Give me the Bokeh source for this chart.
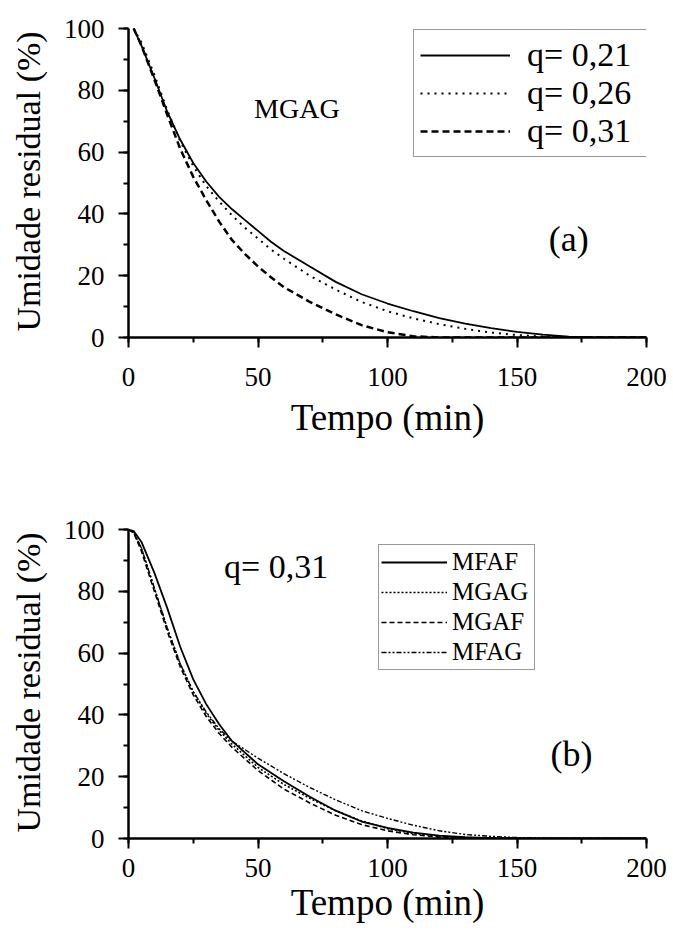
from bokeh.plotting import figure
from bokeh.layouts import column
from bokeh.models import Range1d, SingleIntervalTicker, Legend, LegendItem, Label
from bokeh.embed import file_html
from bokeh.resources import INLINE

FONT = "'Liberation Serif', 'DejaVu Serif', serif"

# ---------------- Panel (a): MGAG, different q ----------------
t_a = [2, 5, 10, 15, 20, 25, 30, 35, 40, 45, 50, 55, 60, 70, 80, 90, 100, 110, 120, 130, 140, 150, 160, 170, 180, 190, 200]
q021 = [100, 94.5, 84, 73, 64, 56.5, 50.5, 45.5, 41.5, 38, 34.5, 31, 28, 23, 18, 14, 11, 8.5, 6.3, 4.5, 3, 1.8, 0.9, 0.3, 0, 0, 0]
q026 = [100, 95.5, 85, 73.5, 63.5, 55.5, 49, 44, 39.5, 35.5, 32, 28.5, 25.5, 20, 15.5, 11.5, 8.5, 6.2, 4.3, 2.8, 1.6, 0.8, 0.3, 0, 0, 0, 0]
q031 = [100, 94.5, 83.5, 72, 61, 52, 44.5, 37.5, 31.5, 27, 23, 19.5, 16.3, 11.5, 7.5, 4, 1.7, 0.4, 0, 0, 0, 0, 0, 0, 0, 0, 0]
labels_a = ["q= 0,21", "q= 0,26", "q= 0,31"]

# ---------------- Panel (b): q = 0,31, different configurations ----------------
t_b = [0, 2, 5, 10, 15, 20, 25, 30, 35, 40, 50, 60, 70, 80, 90, 100, 110, 120, 130, 140, 150, 160, 170, 180, 190, 200]
mfaf = [100, 99.5, 96, 86, 74.5, 62, 51.5, 43.5, 37, 31.5, 24, 18.5, 13.5, 9, 5.5, 3.4, 1.9, 0.9, 0.4, 0.1, 0, 0, 0, 0, 0, 0]
mgag = [100, 99, 94, 81, 68, 56.5, 47.5, 40.5, 35, 30.5, 23, 17.5, 13, 9, 5.7, 3.2, 1.6, 0.8, 0.3, 0.1, 0, 0, 0, 0, 0, 0]
mgaf = [100, 99, 93, 80, 67, 55.5, 46.5, 39.5, 34, 29.5, 22, 16, 11.5, 7.5, 4.5, 2.5, 1.2, 0.5, 0.2, 0, 0, 0, 0, 0, 0, 0]
mfag = [100, 99, 94, 81, 68, 56.5, 47.5, 41, 35.5, 31.5, 26, 21, 16.5, 12.5, 9, 6.5, 4.3, 2.5, 1.3, 0.7, 0.3, 0.1, 0, 0, 0, 0]
labels_b = ["MFAF", "MGAG", "MGAF", "MFAG"]


def style(p):
    p.xgrid.visible = False
    p.ygrid.visible = False
    p.outline_line_color = None
    p.background_fill_color = "white"
    p.border_fill_color = "white"
    p.xaxis.ticker = SingleIntervalTicker(interval=50, num_minor_ticks=2)
    p.yaxis.ticker = SingleIntervalTicker(interval=20, num_minor_ticks=2)
    p.xaxis.bounds = (0, 200)
    p.yaxis.bounds = (0, 100)
    for ax in (p.xaxis, p.yaxis):
        ax.axis_line_width = 2.5
        ax.axis_line_color = "black"
        ax.major_tick_line_width = 2
        ax.minor_tick_line_width = 2
        ax.major_tick_out = 10
        ax.major_tick_in = 0
        ax.minor_tick_out = 5
        ax.minor_tick_in = 0
        ax.major_label_text_font = FONT
        ax.major_label_text_font_size = "27px"
        ax.major_label_text_color = "black"
        ax.axis_label_text_font = FONT
        ax.axis_label_text_font_style = "normal"
        ax.axis_label_text_color = "black"
    p.xaxis.axis_label = "Tempo (min)"
    p.yaxis.axis_label = "Umidade residual (%)"
    p.xaxis.axis_label_text_font_size = "37px"
    p.yaxis.axis_label_text_font_size = "34px"
    p.yaxis.major_label_standoff = 14
    p.yaxis.axis_label_standoff = 14


# ---- figure a ----
pa = figure(width=671, height=468, output_backend="svg", toolbar_location=None,
            x_range=Range1d(0, 200), y_range=Range1d(0, 101),
            min_border_left=128, min_border_right=25, min_border_top=25, min_border_bottom=131)
style(pa)
pa.xaxis.major_label_standoff = 20
pa.xaxis.axis_label_standoff = 8

ra1 = pa.line(t_a, q021, line_color="black", line_width=1.8)
ra2 = pa.line(t_a, q026, line_color="black", line_width=2, line_dash="2 5")
ra3 = pa.line(t_a, q031, line_color="black", line_width=2.5, line_dash="7 4")

leg_a = Legend(items=[LegendItem(label=labels_a[0], renderers=[ra1]),
                      LegendItem(label=labels_a[1], renderers=[ra2]),
                      LegendItem(label=labels_a[2], renderers=[ra3])],
               location=(285, 180), margin=0, padding=6, spacing=0,
               glyph_width=90, glyph_height=30, label_height=30, label_width=118, label_standoff=17,
               label_text_font=FONT, label_text_font_size="34px", label_text_color="black",
               border_line_color="#333333", border_line_width=1.5, background_fill_alpha=1)
pa.add_layout(leg_a)
pa.add_layout(Label(x=65, y=74, text="MGAG", text_font=FONT, text_font_size="28px",
                    text_align="center", text_baseline="middle", text_color="black"))
pa.add_layout(Label(x=170, y=32, text="(a)", text_font=FONT, text_font_size="36px",
                    text_align="center", text_baseline="middle", text_color="black"))

# ---- figure b ----
pb = figure(width=671, height=463, output_backend="svg", toolbar_location=None,
            x_range=Range1d(0, 200), y_range=Range1d(0, 101),
            min_border_left=126, min_border_right=19, min_border_top=58, min_border_bottom=93)
style(pb)
pb.xaxis.major_label_standoff = 10
pb.xaxis.axis_label_standoff = 2

rb1 = pb.line(t_b, mfaf, line_color="black", line_width=1.8)
rb2 = pb.line(t_b, mgag, line_color="black", line_width=1.6, line_dash="2 2")
rb3 = pb.line(t_b, mgaf, line_color="black", line_width=1.6, line_dash="5 3")
rb4 = pb.line(t_b, mfag, line_color="black", line_width=1.4, line_dash="5 2 2 2 2 2")

leg_b = Legend(items=[LegendItem(label=labels_b[0], renderers=[rb1]),
                      LegendItem(label=labels_b[1], renderers=[rb2]),
                      LegendItem(label=labels_b[2], renderers=[rb3]),
                      LegendItem(label=labels_b[3], renderers=[rb4])],
               location=(250, 168), margin=0, padding=2, spacing=0,
               glyph_width=66, glyph_height=30, label_height=30, label_width=80, label_standoff=5,
               label_text_font=FONT, label_text_font_size="25px", label_text_color="black",
               border_line_color="#333333", border_line_width=1.5, background_fill_alpha=1)
pb.add_layout(leg_b)
pb.add_layout(Label(x=57, y=88, text="q= 0,31", text_font=FONT, text_font_size="34px",
                    text_align="center", text_baseline="middle", text_color="black"))
pb.add_layout(Label(x=171, y=27.5, text="(b)", text_font=FONT, text_font_size="36px",
                    text_align="center", text_baseline="middle", text_color="black"))

layout = column(pa, pb, spacing=0)
open("out.html", "w").write(file_html(layout, INLINE))
